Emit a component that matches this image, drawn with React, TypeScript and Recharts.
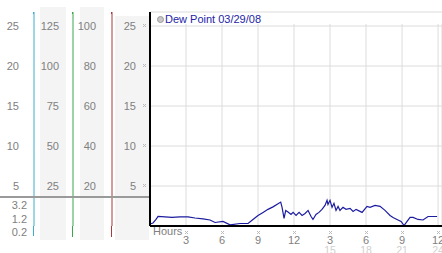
import React from "react";
import {
  LineChart,
  Line,
  XAxis,
  YAxis,
  CartesianGrid,
  Legend,
} from "recharts";

// hour of day (0-24) and dew point readings
const hours = [
  0, 0.25, 0.5, 0.67, 1.25, 1.83, 2.5, 3.17, 3.75, 4.42, 5.0, 5.42, 6.08, 6.67,
  7.5, 8.17, 8.58, 9.0, 9.42, 9.83, 10.25, 10.67, 10.89, 11.0, 11.17, 11.31,
  11.5, 11.75, 11.92, 12.17, 12.42, 12.67, 12.92, 13.17, 13.42, 13.58, 13.83,
  14.08, 14.33, 14.58, 14.75, 14.83, 15.0, 15.17, 15.33, 15.5, 15.67, 15.83,
  16.08, 16.33, 16.67, 16.92, 17.17, 17.67, 18.08, 18.33, 18.75, 19.17, 19.58,
  20.0, 20.25, 20.58, 20.92, 21.17, 21.42, 21.67, 21.92, 22.33, 22.75, 23.17,
  23.92,
];
const dewPoint = [
  0.25, 0.38, 0.82, 1.2, 1.13, 1.07, 1.13, 1.13, 1.0, 0.88, 0.75, 0.44, 0.57,
  0.15, 0.31, 0.31, 0.82, 1.32, 1.7, 2.08, 2.39, 2.79, 2.99, 2.36, 0.94, 1.95,
  1.76, 1.45, 1.7, 1.32, 1.7, 1.32, 1.57, 1.95, 1.19, 0.82, 1.45, 1.7, 2.08,
  2.58, 3.21, 2.7, 3.21, 2.33, 2.83, 1.95, 2.45, 1.95, 2.33, 2.08, 2.2, 1.82,
  2.08, 1.7, 2.45, 2.33, 2.58, 2.45, 1.95, 1.32, 1.07, 0.82, 0.57, 0.06, 0.57,
  1.07, 1.07, 0.82, 0.75, 1.19, 1.19,
];

const hourTicks = [3, 6, 9, 12, 15, 18, 21, 24];
const mainTicks = [5, 10, 15, 20, 25];
const greenTicks = [25, 50, 75, 100, 125];
const redTicks = [20, 40, 60, 80, 100];
const rainLabels = ["3.2", "1.2", "0.2"];

const seriesName = "Dew Point 03/29/08";

const data = hours.map((h, i) => ({ hour: h, dew: dewPoint[i] }));

const FONT = "'Liberation Sans', Arial, sans-serif";
const TICK_GRAY = "#808080";

const Marker = ({ x, y }: { x: number; y: number }) => {
  const cx = Math.round(x);
  const cy = Math.round(y);
  return (
    <g fill="#bbb" stroke="none">
      <rect x={cx - 2} y={cy - 2} width={1} height={1} />
      <rect x={cx} y={cy - 2} width={1} height={1} />
      <rect x={cx - 1} y={cy - 1} width={1} height={1} />
      <rect x={cx - 2} y={cy} width={1} height={1} />
      <rect x={cx} y={cy} width={1} height={1} />
    </g>
  );
};

const makeYTick =
  (offset: number, marker: boolean) =>
  ({ x, y, payload }: any) => (
    <g>
      <text
        x={Math.round(x - offset)}
        y={Math.round(y) + 4}
        textAnchor="end"
        fontSize={11}
        fontFamily={FONT}
        fill={TICK_GRAY}
        stroke="none"
      >
        {payload.value}
      </text>
      {marker && <Marker x={x - 3} y={y} />}
    </g>
  );

const HourTick = ({ x, y, payload }: any) => {
  const h = payload.value;
  const tx = Math.round(x);
  const ty = Math.round(y);
  return (
    <g>
      <Marker x={x + 1} y={y + 5} />
      <text
        x={tx}
        y={ty + 16}
        textAnchor="middle"
        fontSize={11}
        fontFamily={FONT}
        fill={TICK_GRAY}
        stroke="none"
      >
        {h > 12 ? h - 12 : h}
      </text>
      {h > 12 && (
        <text
          x={tx}
          y={ty + 25.5}
          textAnchor="middle"
          fontSize={10.5}
          fontFamily={FONT}
          fill="#d0d0d0"
          stroke="none"
        >
          {h}
        </text>
      )}
    </g>
  );
};

const LegendContent = () => (
  <div
    style={{
      display: "flex",
      alignItems: "center",
      fontFamily: FONT,
      fontSize: 11,
      color: "#2323a8",
      whiteSpace: "nowrap",
    }}
  >
    <span
      style={{
        display: "inline-block",
        width: 5,
        height: 5,
        borderRadius: "50%",
        background: "#c8c8c8",
        border: "1px solid #999",
        marginRight: 1,
      }}
    />
    {seriesName}
  </div>
);

const abs = (style: React.CSSProperties): React.CSSProperties => ({
  position: "absolute",
  ...style,
});

export default function App() {
  return (
    <div style={{ position: "relative", width: 442, height: 253, background: "#fff" }}>
      <style>{`body{margin:0}`}</style>
      {/* shaded label columns */}
      <div style={abs({ left: 40, top: 7, width: 26, height: 233, background: "#f4f4f4" })} />
      <div style={abs({ left: 80, top: 7, width: 24, height: 233, background: "#f4f4f4" })} />
      <div style={abs({ left: 115, top: 16, width: 34, height: 224, background: "#f4f4f4" })} />
      {/* axis line extensions outside the plot */}
      <div style={abs({ left: 33, top: 226, width: 1, height: 10, background: "#3aaecb" })} />
      <div style={abs({ left: 72, top: 226, width: 1, height: 11, background: "#3aa84a" })} />
      <div style={abs({ left: 111, top: 226, width: 1, height: 11, background: "#a83a3a" })} />
      <div style={abs({ left: 33, top: 12, width: 1, height: 2, background: "#3aaecb" })} />
      <div style={abs({ left: 72, top: 12, width: 1, height: 2, background: "#3aa84a" })} />
      <div style={abs({ left: 111, top: 12, width: 1, height: 2, background: "#a83a3a" })} />
      <div style={{ position: "absolute", left: 0, top: 0 }}>
        <LineChart
          width={442}
          height={253}
          data={data}
          margin={{ top: 0, right: 0, bottom: 0, left: 0 }}
        >
          <CartesianGrid
            xAxisId="h"
            yAxisId="a_main"
            stroke="#dcdcdc"
            vertical={(p: any) => (
              <line
                key={p.key}
                x1={p.x1}
                x2={p.x2}
                y1={p.y1 + 12}
                y2={p.y2}
                stroke="#dcdcdc"
              />
            )}
          />
          <XAxis
            xAxisId="h"
            dataKey="hour"
            type="number"
            domain={[0, 24.33]}
            ticks={hourTicks}
            height={27}
            tickLine={false}
            tickSize={0}
            axisLine={{ stroke: "#000", strokeWidth: 2 }}
            tick={<HourTick />}
            interval={0}
          />
          <YAxis
            yAxisId="a_main"
            orientation="left"
            width={38}
            domain={[0, 26.75]}
            allowDataOverflow
            ticks={mainTicks}
            tickLine={false}
            tickSize={0}
            axisLine={{ stroke: "#000", strokeWidth: 2 }}
            tick={makeYTick(12, true)}
            interval={0}
          />
          <YAxis
            yAxisId="b_red"
            orientation="left"
            width={39}
            domain={[0, 107]}
            allowDataOverflow
            ticks={redTicks}
            tickLine={false}
            tickSize={0}
            axisLine={{ stroke: "#a83a3a" }}
            tick={makeYTick(14, false)}
            interval={0}
          />
          <YAxis
            yAxisId="c_green"
            orientation="left"
            width={39}
            domain={[0, 133.75]}
            allowDataOverflow
            ticks={greenTicks}
            tickLine={false}
            tickSize={0}
            axisLine={{ stroke: "#3aa84a" }}
            tick={makeYTick(12, false)}
            interval={0}
          />
          <YAxis
            yAxisId="d_teal"
            orientation="left"
            width={34}
            domain={[0, 26.75]}
            allowDataOverflow
            ticks={mainTicks}
            tickLine={false}
            tickSize={0}
            axisLine={{ stroke: "#3aaecb" }}
            tick={makeYTick(13, false)}
            interval={0}
          />
          <Legend
            verticalAlign="top"
            align="left"
            content={<LegendContent />}
            wrapperStyle={{ top: 13, left: 157, width: "auto" }}
          />
          {/* invisible series so the secondary scales get built */}
          {["b_red", "c_green", "d_teal"].map((id) => (
            <Line
              key={id}
              xAxisId="h"
              yAxisId={id}
              dataKey="dew"
              stroke="none"
              dot={false}
              activeDot={false}
              legendType="none"
              isAnimationActive={false}
            />
          ))}
          <Line
            xAxisId="h"
            yAxisId="a_main"
            type="linear"
            dataKey="dew"
            name={seriesName}
            stroke="#1c1ca0"
            strokeWidth={1.2}
            dot={false}
            isAnimationActive={false}
          />
        </LineChart>
      </div>
      {/* rain scale below the divider */}
      <div style={abs({ left: 0, top: 196, width: 149, height: 2, background: "#9a9a9a" })} />
      {rainLabels.map((t, i) => (
        <div
          key={t}
          style={abs({
            left: 0,
            width: 27,
            top: 199 + i * 13.5,
            textAlign: "right",
            fontFamily: FONT,
            fontSize: 11,
            lineHeight: "12px",
            color: TICK_GRAY,
          })}
        >
          {t}
        </div>
      ))}
      <div
        style={abs({
          left: 153,
          top: 225,
          fontFamily: FONT,
          fontSize: 11,
          lineHeight: "13px",
          color: TICK_GRAY,
        })}
      >
        Hours
      </div>
    </div>
  );
}
